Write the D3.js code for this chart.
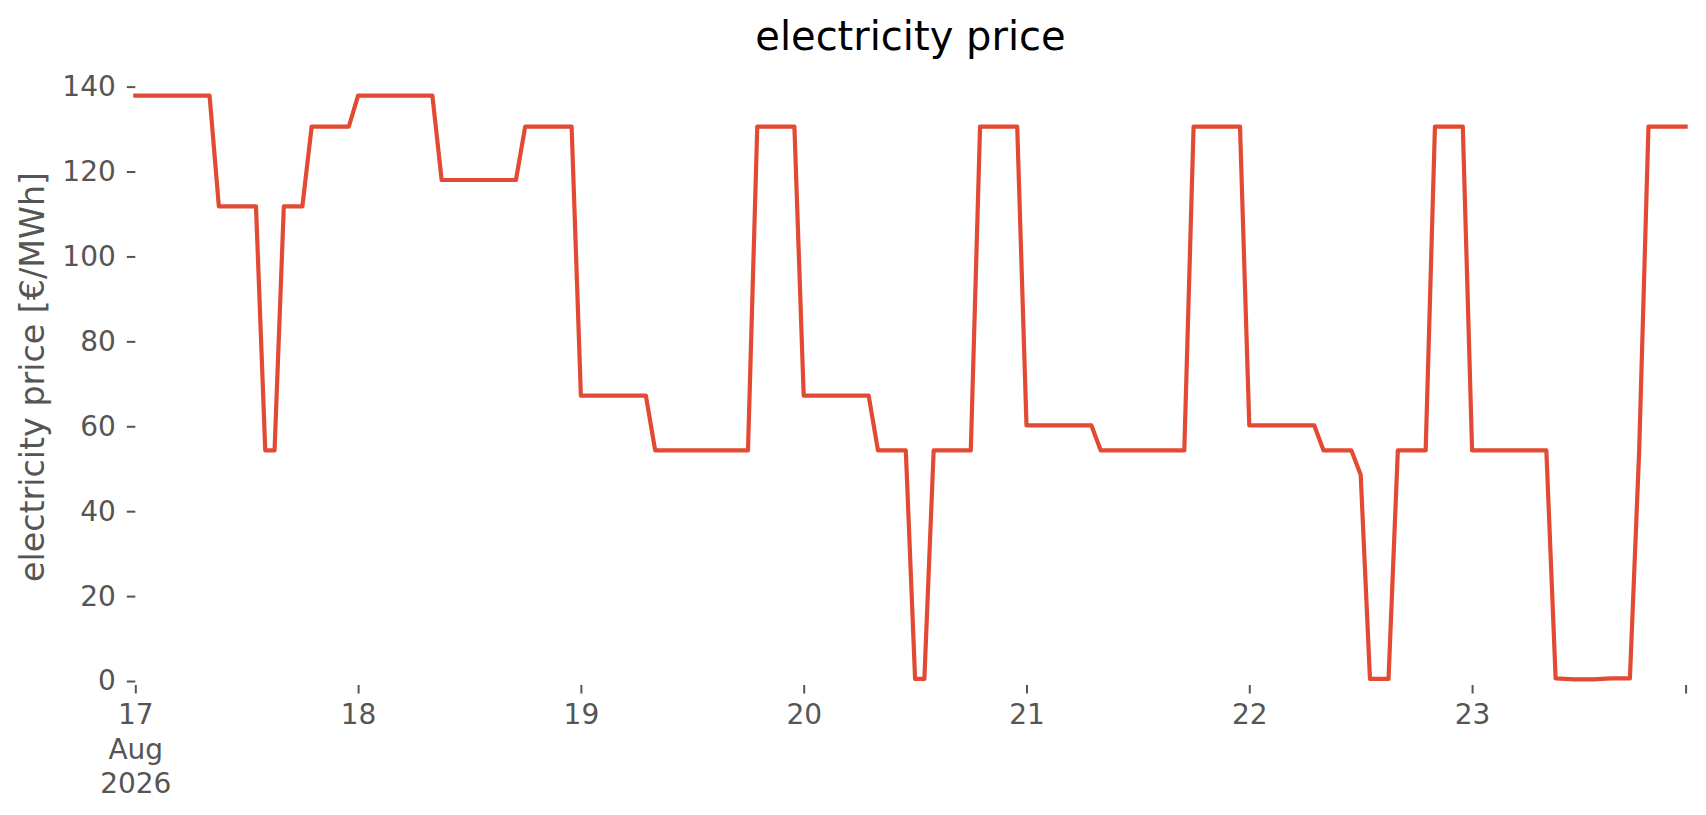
<!DOCTYPE html>
<html>
<head>
<meta charset="utf-8">
<script src="https://cdnjs.cloudflare.com/ajax/libs/d3/7.8.5/d3.min.js"></script>
<style>
	body { margin: 0; background: #fff; }
	svg { display: block; font-family: "DejaVu Sans", sans-serif; }
</style>
</head>
<body>
<svg id="chart" width="1706" height="815"></svg>
<script>
// hourly prices, 17 Aug 2026 00:00 .. 23 Aug 2026 23:00 (one row per day)
var startTime = Date.UTC(2026, 7, 17, 0);
var prices = [
	137.9, 137.9, 137.9, 137.9, 137.9, 137.9, 137.9, 137.9, 137.9, 111.8, 111.8, 111.8, 111.8, 111.8, 54.3, 54.3, 111.8, 111.8, 111.8, 130.6, 130.6, 130.6, 130.6, 130.6,
	137.9, 137.9, 137.9, 137.9, 137.9, 137.9, 137.9, 137.9, 137.9, 118.0, 118.0, 118.0, 118.0, 118.0, 118.0, 118.0, 118.0, 118.0, 130.6, 130.6, 130.6, 130.6, 130.6, 130.6,
	67.2, 67.2, 67.2, 67.2, 67.2, 67.2, 67.2, 67.2, 54.3, 54.3, 54.3, 54.3, 54.3, 54.3, 54.3, 54.3, 54.3, 54.3, 54.3, 130.6, 130.6, 130.6, 130.6, 130.6,
	67.2, 67.2, 67.2, 67.2, 67.2, 67.2, 67.2, 67.2, 54.3, 54.3, 54.3, 54.3, 0.5, 0.5, 54.3, 54.3, 54.3, 54.3, 54.3, 130.6, 130.6, 130.6, 130.6, 130.6,
	60.2, 60.2, 60.2, 60.2, 60.2, 60.2, 60.2, 60.2, 54.3, 54.3, 54.3, 54.3, 54.3, 54.3, 54.3, 54.3, 54.3, 54.3, 130.6, 130.6, 130.6, 130.6, 130.6, 130.6,
	60.2, 60.2, 60.2, 60.2, 60.2, 60.2, 60.2, 60.2, 54.3, 54.3, 54.3, 54.3, 48.6, 0.5, 0.5, 0.5, 54.3, 54.3, 54.3, 54.3, 130.6, 130.6, 130.6, 130.6,
	54.3, 54.3, 54.3, 54.3, 54.3, 54.3, 54.3, 54.3, 54.3, 0.6, 0.5, 0.4, 0.4, 0.4, 0.5, 0.6, 0.6, 0.6, 54.3, 130.6, 130.6, 130.6, 130.6, 130.6
];
var yTicks = [0, 20, 40, 60, 80, 100, 120, 140];
var xTickDays = [17, 18, 19, 20, 21, 22, 23];
var firstTickLines = ["17", "Aug", "2026"];

var titleText = "electricity price";
var yLabelText = "electricity price [€/MWh]";

var HOUR = 3600 * 1000;
var points = prices.map(function(v, i) { return { t: new Date(startTime + i * HOUR), v: v }; });

var box = { left: 135.3, right: 1685.6, top: 69, bottom: 685 };
var svg = d3.select("#chart");

var x = d3.scaleUtc()
	.domain(d3.extent(points, function(d) { return d.t; }))
	.range([box.left, box.right]);
var y = d3.scaleLinear()
	.domain([-0.94, 144.15])
	.range([box.bottom, box.top]);

// x axis: day ticks plus an unlabeled tick at the last sample
var xTickDates = xTickDays.map(function(d) { return new Date(Date.UTC(2026, 7, d)); });
xTickDates.push(x.domain()[1]);
var xAxis = svg.append("g")
	.attr("transform", "translate(0," + box.bottom + ")")
	.call(d3.axisBottom(x).tickValues(xTickDates).tickSize(8.5).tickPadding(11)
		.tickFormat(function(d, i) { return i < xTickDays.length ? String(xTickDays[i]) : ""; }));
xAxis.select(".domain").remove();
xAxis.selectAll(".tick line").attr("stroke", "#555").attr("stroke-width", 2);
xAxis.selectAll(".tick text")
	.attr("fill", "#555").attr("font-size", 28).attr("font-family", "DejaVu Sans")
	.attr("dy", "0.71em");
// first tick gets month and year under the day
xAxis.select(".tick text").text(null).selectAll("tspan")
	.data(firstTickLines).enter().append("tspan")
	.attr("x", 0).attr("dy", function(d, i) { return i === 0 ? "0.71em" : "1.23em"; })
	.text(function(d) { return d; });

var yAxis = svg.append("g")
	.attr("transform", "translate(" + box.left + ",0)")
	.call(d3.axisLeft(y).tickValues(yTicks).tickSize(8.5).tickPadding(11));
yAxis.select(".domain").remove();
yAxis.selectAll(".tick line").attr("stroke", "#555").attr("stroke-width", 2);
yAxis.selectAll(".tick text")
	.attr("fill", "#555").attr("font-size", 28).attr("font-family", "DejaVu Sans");

// price line
var line = d3.line()
	.x(function(d) { return x(d.t); })
	.y(function(d) { return y(d.v); });
svg.append("path")
	.datum(points)
	.attr("d", line)
	.attr("fill", "none")
	.attr("stroke", "#E24A33")
	.attr("stroke-width", 4.2)
	.attr("stroke-linejoin", "round")
	.attr("stroke-linecap", "square");

svg.append("text")
	.attr("x", (box.left + box.right) / 2).attr("y", 50)
	.attr("text-anchor", "middle")
	.attr("font-size", 40).attr("fill", "#000")
	.text(titleText);

svg.append("text")
	.attr("transform", "translate(44," + (box.top + box.bottom) / 2 + ") rotate(-90)")
	.attr("text-anchor", "middle")
	.attr("font-size", 33.3).attr("fill", "#555")
	.text(yLabelText);
</script>
</body>
</html>
